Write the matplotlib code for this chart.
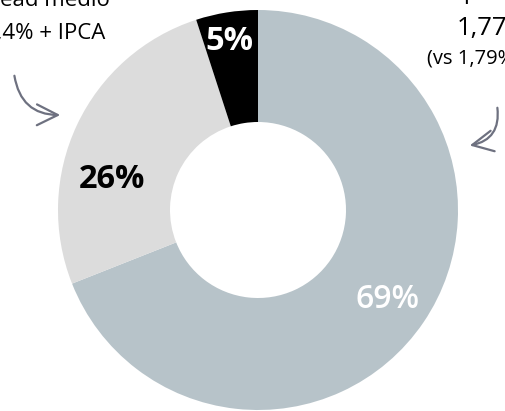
import matplotlib
matplotlib.use('Agg')
import matplotlib.pyplot as plt

# slice data (clockwise from the top)
labels = ['69%', '26%', '5%']
shares = [69, 26, 5]
colors = ['#B7C3C9', '#DCDCDC', '#000000']

left_note = ['Spread medio', '5,4% + IPCA']
right_note = ['Spread', '1,77%', '(vs 1,79%)']

plt.rcParams['font.family'] = ['Open Sans', 'DejaVu Sans']

fig = plt.figure(figsize=(5.05, 4.11), dpi=100)
ax = fig.add_axes([0, 0, 1, 1])

ax.pie(shares, colors=colors, radius=200, startangle=90, counterclock=False,
       wedgeprops=dict(width=112, linewidth=0))

# axis units are pixels, donut centre at (0, 0); pie() resets the limits so set them after
ax.set_xlim(-258, 247)
ax.set_ylim(-201, 210)
ax.set_aspect('equal')
ax.axis('off')

#labels
ax.text(130, -89, labels[0], color='white', fontsize=23, fontweight='semibold', ha='center', va='center')
ax.text(-146, 31, labels[1], color='black', fontsize=23.5, fontweight='bold', ha='center', va='center')
ax.text(-29, 169, labels[2], color='white', fontsize=23.5, fontweight='bold', ha='center', va='center')

# notes, partly cut off by the edge of the picture
ax.text(-148, 204, left_note[0], fontsize=16, ha='right', va='baseline')
ax.text(-153, 171, left_note[1], fontsize=16, ha='right', va='baseline')
ax.text(194, 212, right_note[0], fontsize=17, ha='left', va='baseline')
ax.text(199, 175, right_note[1], fontsize=18.5, ha='left', va='baseline')
ax.text(169, 147, right_note[2], fontsize=14.5, ha='left', va='baseline')

# hand drawn arrows
arrow = dict(arrowstyle='->,head_length=1.5,head_width=0.75', color='#6E7180', lw=1.6)
ax.annotate('', xy=(-195, 95), xytext=(-244, 137),
            arrowprops=dict(connectionstyle='arc3,rad=0.45', **arrow))
ax.annotate('', xy=(209, 64), xytext=(239, 105),
            arrowprops=dict(connectionstyle='arc3,rad=-0.5', **arrow))

fig.savefig('out.png', dpi=100)
